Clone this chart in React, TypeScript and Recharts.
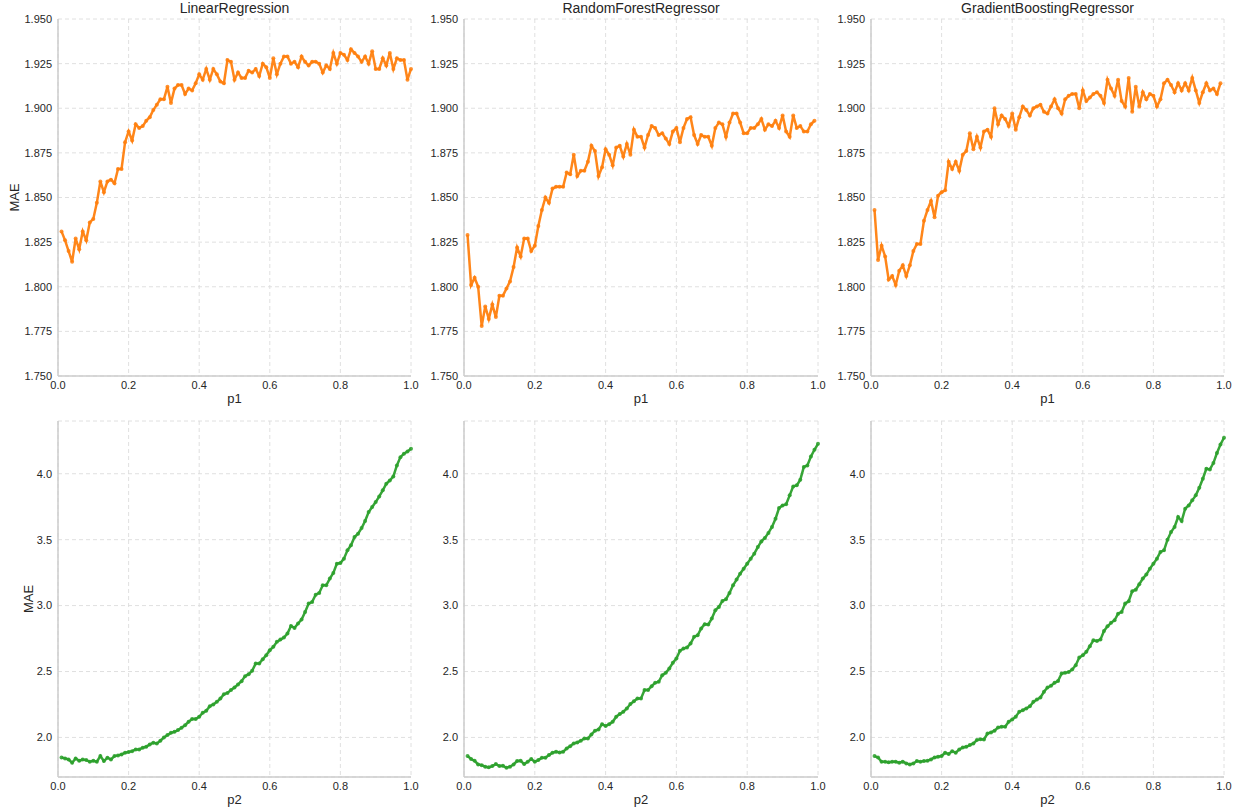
import React from 'react';
import { LineChart, Line, XAxis, YAxis, CartesianGrid } from 'recharts';

const P_GRID = [
  0.01, 0.02, 0.03, 0.04, 0.05, 0.06, 0.07, 0.08, 0.09, 0.1,
  0.11, 0.12, 0.13, 0.14, 0.15, 0.16, 0.17, 0.18, 0.19, 0.2,
  0.21, 0.22, 0.23, 0.24, 0.25, 0.26, 0.27, 0.28, 0.29, 0.3,
  0.31, 0.32, 0.33, 0.34, 0.35, 0.36, 0.37, 0.38, 0.39, 0.4,
  0.41, 0.42, 0.43, 0.44, 0.45, 0.46, 0.47, 0.48, 0.49, 0.5,
  0.51, 0.52, 0.53, 0.54, 0.55, 0.56, 0.57, 0.58, 0.59, 0.6,
  0.61, 0.62, 0.63, 0.64, 0.65, 0.66, 0.67, 0.68, 0.69, 0.7,
  0.71, 0.72, 0.73, 0.74, 0.75, 0.76, 0.77, 0.78, 0.79, 0.8,
  0.81, 0.82, 0.83, 0.84, 0.85, 0.86, 0.87, 0.88, 0.89, 0.9,
  0.91, 0.92, 0.93, 0.94, 0.95, 0.96, 0.97, 0.98, 0.99, 1.0,
];

const MODEL_NAMES = ['LinearRegression', 'RandomForestRegressor', 'GradientBoostingRegressor'];

const LR_P1 = [
  1.831, 1.826, 1.820, 1.814, 1.827, 1.821, 1.831, 1.826, 1.836, 1.838,
  1.847, 1.859, 1.853, 1.859, 1.860, 1.858, 1.866, 1.866, 1.881, 1.887,
  1.882, 1.891, 1.889, 1.890, 1.893, 1.895, 1.899, 1.902, 1.905, 1.905,
  1.912, 1.903, 1.911, 1.913, 1.913, 1.908, 1.911, 1.910, 1.914, 1.919,
  1.916, 1.922, 1.916, 1.922, 1.919, 1.915, 1.914, 1.927, 1.926, 1.916,
  1.920, 1.917, 1.917, 1.921, 1.920, 1.922, 1.918, 1.925, 1.923, 1.917,
  1.928, 1.919, 1.925, 1.929, 1.929, 1.925, 1.926, 1.923, 1.929, 1.926,
  1.924, 1.926, 1.926, 1.925, 1.920, 1.924, 1.922, 1.931, 1.925, 1.931,
  1.930, 1.927, 1.933, 1.931, 1.929, 1.926, 1.929, 1.925, 1.932, 1.922,
  1.922, 1.928, 1.924, 1.931, 1.922, 1.928, 1.927, 1.927, 1.916, 1.922,
];

const RF_P1 = [
  1.829, 1.801, 1.805, 1.800, 1.778, 1.789, 1.782, 1.790, 1.783, 1.795,
  1.795, 1.799, 1.803, 1.811, 1.822, 1.817, 1.827, 1.827, 1.820, 1.823,
  1.834, 1.843, 1.850, 1.847, 1.855, 1.856, 1.856, 1.856, 1.864, 1.863,
  1.874, 1.862, 1.865, 1.865, 1.870, 1.879, 1.876, 1.862, 1.867, 1.877,
  1.874, 1.868, 1.878, 1.879, 1.873, 1.880, 1.874, 1.888, 1.884, 1.884,
  1.878, 1.885, 1.890, 1.889, 1.885, 1.886, 1.883, 1.880, 1.887, 1.889,
  1.881, 1.889, 1.894, 1.895, 1.885, 1.880, 1.885, 1.884, 1.884, 1.879,
  1.889, 1.892, 1.891, 1.884, 1.892, 1.897, 1.897, 1.892, 1.886, 1.886,
  1.889, 1.889, 1.891, 1.894, 1.888, 1.891, 1.890, 1.893, 1.889, 1.896,
  1.887, 1.884, 1.896, 1.889, 1.890, 1.887, 1.887, 1.891, 1.893,
];

const GB_P1 = [
  1.843, 1.815, 1.823, 1.817, 1.804, 1.806, 1.801, 1.809, 1.812, 1.806,
  1.812, 1.820, 1.824, 1.824, 1.837, 1.843, 1.848, 1.839, 1.851, 1.853,
  1.854, 1.870, 1.866, 1.870, 1.865, 1.874, 1.876, 1.886, 1.877, 1.884,
  1.878, 1.887, 1.888, 1.884, 1.900, 1.891, 1.896, 1.894, 1.890, 1.897,
  1.888, 1.895, 1.901, 1.899, 1.896, 1.900, 1.901, 1.902, 1.898, 1.897,
  1.901, 1.905, 1.900, 1.897, 1.905, 1.907, 1.908, 1.908, 1.900, 1.910,
  1.904, 1.906, 1.908, 1.909, 1.907, 1.903, 1.916, 1.911, 1.907, 1.916,
  1.904, 1.901, 1.917, 1.898, 1.912, 1.901, 1.909, 1.905, 1.908, 1.907,
  1.901, 1.905, 1.914, 1.916, 1.913, 1.909, 1.914, 1.910, 1.914, 1.910,
  1.917, 1.910, 1.903, 1.909, 1.914, 1.910, 1.911, 1.908, 1.914,
];

const LR_P2 = [
  1.848, 1.841, 1.833, 1.808, 1.841, 1.823, 1.833, 1.828, 1.816, 1.823,
  1.816, 1.859, 1.821, 1.846, 1.833, 1.859, 1.864, 1.871, 1.884, 1.889,
  1.896, 1.909, 1.909, 1.922, 1.929, 1.947, 1.960, 1.955, 1.975, 2.000,
  2.018, 2.035, 2.043, 2.056, 2.073, 2.093, 2.119, 2.139, 2.139, 2.157,
  2.187, 2.202, 2.237, 2.250, 2.270, 2.295, 2.328, 2.338, 2.359, 2.379,
  2.402, 2.427, 2.465, 2.480, 2.505, 2.561, 2.561, 2.593, 2.624, 2.662,
  2.687, 2.725, 2.742, 2.758, 2.788, 2.846, 2.831, 2.864, 2.894, 2.952,
  3.015, 3.028, 3.083, 3.096, 3.154, 3.154, 3.205, 3.247, 3.318, 3.323,
  3.356, 3.419, 3.457, 3.520, 3.545, 3.588, 3.641, 3.710, 3.747, 3.785,
  3.828, 3.874, 3.924, 3.949, 3.980, 4.063, 4.126, 4.152, 4.169, 4.189,
];

const RF_P2 = [
  1.859, 1.836, 1.823, 1.795, 1.790, 1.778, 1.773, 1.783, 1.798, 1.783,
  1.785, 1.770, 1.778, 1.795, 1.821, 1.823, 1.798, 1.816, 1.836, 1.816,
  1.828, 1.846, 1.846, 1.866, 1.884, 1.891, 1.886, 1.891, 1.917, 1.934,
  1.955, 1.962, 1.975, 1.992, 1.992, 2.023, 2.051, 2.061, 2.101, 2.086,
  2.101, 2.119, 2.157, 2.177, 2.194, 2.220, 2.253, 2.275, 2.295, 2.295,
  2.359, 2.359, 2.389, 2.414, 2.422, 2.472, 2.490, 2.523, 2.566, 2.598,
  2.657, 2.674, 2.682, 2.712, 2.763, 2.775, 2.826, 2.859, 2.856, 2.902,
  2.965, 2.990, 3.035, 3.048, 3.096, 3.154, 3.197, 3.242, 3.280, 3.318,
  3.356, 3.394, 3.444, 3.487, 3.513, 3.551, 3.596, 3.659, 3.740, 3.760,
  3.768, 3.836, 3.904, 3.912, 3.955, 4.051, 4.063, 4.131, 4.182, 4.227,
];

const GB_P2 = [
  1.859, 1.848, 1.816, 1.816, 1.811, 1.816, 1.816, 1.808, 1.816, 1.803,
  1.795, 1.803, 1.821, 1.816, 1.821, 1.823, 1.833, 1.848, 1.854, 1.859,
  1.884, 1.874, 1.896, 1.884, 1.909, 1.924, 1.929, 1.942, 1.955, 1.980,
  1.987, 1.985, 2.030, 2.038, 2.051, 2.076, 2.081, 2.081, 2.119, 2.136,
  2.157, 2.194, 2.207, 2.220, 2.237, 2.270, 2.288, 2.303, 2.346, 2.379,
  2.392, 2.414, 2.429, 2.485, 2.490, 2.497, 2.515, 2.548, 2.606, 2.624,
  2.649, 2.692, 2.737, 2.732, 2.742, 2.808, 2.843, 2.869, 2.889, 2.939,
  2.952, 3.015, 3.033, 3.109, 3.121, 3.162, 3.205, 3.235, 3.280, 3.318,
  3.356, 3.407, 3.419, 3.500, 3.558, 3.596, 3.672, 3.641, 3.735, 3.760,
  3.798, 3.836, 3.894, 3.962, 4.038, 4.033, 4.081, 4.157, 4.222, 4.273,
];

const X_TICKS = [0, 0.2, 0.4, 0.6, 0.8, 1.0];
const Y_TICKS_P1 = [1.75, 1.775, 1.8, 1.825, 1.85, 1.875, 1.9, 1.925, 1.95];
const Y_TICKS_P2 = [2.0, 2.5, 3.0, 3.5, 4.0];
const Y_DOMAIN_P1: [number, number] = [1.75, 1.95];
const Y_DOMAIN_P2: [number, number] = [1.7, 4.4];

const ORANGE = '#ff7f0e';
const GREEN = '#2ca02c';
const FONT = '"Liberation Sans", Arial, Helvetica, sans-serif';
const TEXT_COLOR = '#262626';

const COLS = [
  { left: 58, width: 353 },
  { left: 464, width: 354 },
  { left: 871, width: 353 },
];
const ROWS = [
  { top: 19, height: 357 },
  { top: 421, height: 356 },
];

function build(values: number[]) {
  return values.map((v, i) => ({ p: P_GRID[i], mae: v }));
}

type PanelProps = {
  col: { left: number; width: number };
  row: { top: number; height: number };
  values: number[];
  color: string;
  yDomain: [number, number];
  yTicks: number[];
  yDigits: number;
};

function Panel({ col, row, values, color, yDomain, yTicks, yDigits }: PanelProps) {
  const ML = 60;
  const MT = 10;
  const MR = 12;
  const MB = 30;
  const data = build(values);
  const tickStyle = { fontSize: 11, fill: TEXT_COLOR, fontFamily: FONT };
  return (
    <div style={{ position: 'absolute', left: col.left - ML, top: row.top - MT }}>
      <LineChart
        width={ML + col.width + MR}
        height={MT + row.height + MB}
        data={data}
        margin={{ top: MT, right: MR, bottom: 0, left: 0 }}
      >
        <CartesianGrid stroke="#dddddd" strokeDasharray="4 3" strokeWidth={0.9} />
        <XAxis
          dataKey="p"
          type="number"
          domain={[0, 1]}
          ticks={X_TICKS}
          interval={0}
          tickFormatter={(v: number) => v.toFixed(1)}
          height={MB}
          axisLine={{ stroke: '#cccccc', strokeWidth: 1.5 }}
          tickLine={false}
          tickSize={3}
          tick={tickStyle}
        />
        <YAxis
          type="number"
          domain={yDomain}
          ticks={yTicks}
          interval={0}
          allowDataOverflow
          tickFormatter={(v: number) => v.toFixed(yDigits)}
          width={ML}
          axisLine={{ stroke: '#cccccc', strokeWidth: 1.5 }}
          tickLine={false}
          tickSize={4}
          tick={tickStyle}
        />
        <Line
          dataKey="mae"
          type="linear"
          stroke={color}
          strokeWidth={2.5}
          strokeOpacity={0.95}
          dot={{ r: 2, fill: color, stroke: color, strokeWidth: 0, fillOpacity: 0.85 }}
          activeDot={false}
          isAnimationActive={false}
        />
      </LineChart>
    </div>
  );
}

export default function App() {
  const top = [LR_P1, RF_P1, GB_P1];
  const bottom = [LR_P2, RF_P2, GB_P2];
  return (
    <div
      style={{
        position: 'absolute',
        left: 0,
        top: 0,
        width: 1241,
        height: 812,
        background: '#ffffff',
        overflow: 'hidden',
      }}
    >
      {top.map((vals, i) => (
        <Panel
          key={'t' + i}
          col={COLS[i]}
          row={ROWS[0]}
          values={vals}
          color={ORANGE}
          yDomain={Y_DOMAIN_P1}
          yTicks={Y_TICKS_P1}
          yDigits={3}
        />
      ))}
      {bottom.map((vals, i) => (
        <Panel
          key={'b' + i}
          col={COLS[i]}
          row={ROWS[1]}
          values={vals}
          color={GREEN}
          yDomain={Y_DOMAIN_P2}
          yTicks={Y_TICKS_P2}
          yDigits={1}
        />
      ))}
      <svg
        width={1241}
        height={812}
        style={{ position: 'absolute', left: 0, top: 0, pointerEvents: 'none' }}
      >
        {COLS.map((c, i) => (
          <g key={'lbl' + i} fontFamily={FONT} fill={TEXT_COLOR}>
            <text x={c.left + c.width / 2} y={13} textAnchor="middle" fontSize={14}>
              {MODEL_NAMES[i]}
            </text>
            <text x={c.left + c.width / 2} y={ROWS[0].top + ROWS[0].height + 27} textAnchor="middle" fontSize={13}>
              p1
            </text>
            <text x={c.left + c.width / 2} y={ROWS[1].top + ROWS[1].height + 27} textAnchor="middle" fontSize={13}>
              p2
            </text>
          </g>
        ))}
        <text
          x={19}
          y={ROWS[0].top + ROWS[0].height / 2}
          textAnchor="middle"
          fontSize={13}
          fontFamily={FONT}
          fill={TEXT_COLOR}
          transform={`rotate(-90 19 ${ROWS[0].top + ROWS[0].height / 2})`}
        >
          MAE
        </text>
        <text
          x={33}
          y={ROWS[1].top + ROWS[1].height / 2}
          textAnchor="middle"
          fontSize={13}
          fontFamily={FONT}
          fill={TEXT_COLOR}
          transform={`rotate(-90 33 ${ROWS[1].top + ROWS[1].height / 2})`}
        >
          MAE
        </text>
      </svg>
    </div>
  );
}
